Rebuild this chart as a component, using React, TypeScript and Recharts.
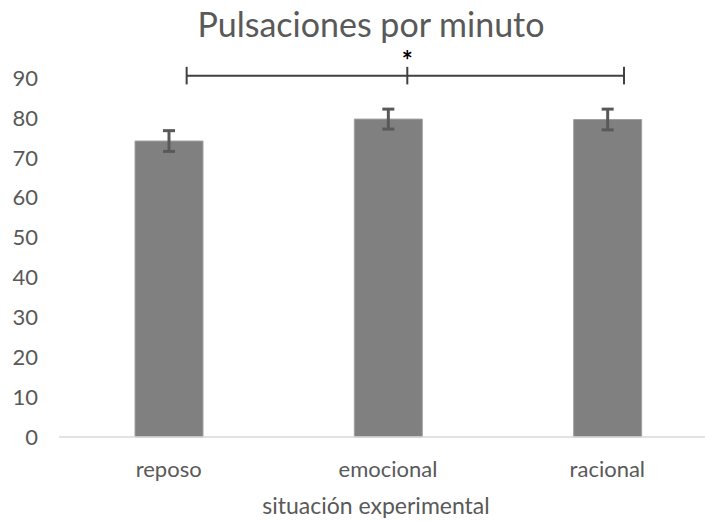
import React from 'react';
import { BarChart, Bar, XAxis, YAxis, ErrorBar, ReferenceLine, ReferenceDot } from 'recharts';

const categories = ['reposo', 'emocional', 'racional'];
const means = [74.2, 79.7, 79.6];
const errors = [2.6, 2.5, 2.6];
const positions = [0.5, 1.5, 2.5];
const yTicks = [0, 10, 20, 30, 40, 50, 60, 70, 80, 90];
const titleText = 'Pulsaciones por minuto';
const xTitle = 'situación experimental';
// significance bracket (positions on a 0..3 category scale, values on the y scale)
const bracketX = [0.582, 1.588, 2.576];
const bracketY = 90.55;
const bracketTickLow = 88.4;
const bracketTickHigh = 92.8;
const starY = 94.2;

const data = categories.map((c, i) => ({ cat: c, pos: positions[i], value: means[i], err: errors[i] }));

const FONT = 'Lato, "Open Sans", sans-serif';
const TXT = '#595959';

export default function App() {
  return (
    <div style={{ position: 'absolute', left: 0, top: 0, width: 705, height: 522, overflow: 'hidden', background: '#fff' }}>
      <svg width={705} height={60} style={{ position: 'absolute', left: 0, top: 0 }}>
        <text x={371} y={37} textAnchor="middle" fontFamily={FONT} fontSize={34} fill={TXT}>{titleText}</text>
      </svg>
      <div style={{ position: 'absolute', left: 0, top: 0 }}>
        <BarChart width={717} height={522} data={data} margin={{ top: 78, right: 0, bottom: 0, left: 0 }} style={{ fontFamily: FONT }}>
          <XAxis
            dataKey="cat"
            height={85}
            axisLine={{ stroke: '#d9d9d9', strokeWidth: 1.5 }}
            tickLine={false}
            tickSize={0}
            tickMargin={24}
            tick={{ fontSize: 22, fill: TXT, fontFamily: FONT }}
            label={{ value: xTitle, position: 'insideBottom', offset: 8, dx: -12, fontSize: 23, fill: TXT, fontFamily: FONT }}
          />
          <XAxis xAxisId="b" dataKey="pos" type="number" domain={[0, 3]} hide allowDataOverflow />
          <YAxis
            width={59}
            domain={[0, 90]}
            ticks={yTicks}
            axisLine={false}
            tickLine={false}
            tickSize={0}
            tickMargin={21}
            interval={0}
            tick={{ fontSize: 22, fill: TXT, fontFamily: FONT }}
          />
          <Bar dataKey="value" fill="#808080" stroke="#a0a0a0" strokeWidth={1} barSize={68} isAnimationActive={false}>
            <ErrorBar dataKey="err" width={6} stroke="#595959" strokeWidth={3} isAnimationActive={false} />
          </Bar>
          <ReferenceLine xAxisId="b" ifOverflow="visible" stroke="#404040" strokeWidth={2}
            segment={[{ x: bracketX[0], y: bracketY }, { x: bracketX[2], y: bracketY }]} />
          {bracketX.map((bx, i) => (
            <ReferenceLine key={i} xAxisId="b" ifOverflow="visible" stroke="#404040" strokeWidth={2}
              segment={[{ x: bx, y: bracketTickLow }, { x: bx, y: bracketTickHigh }]} />
          ))}
          <ReferenceDot xAxisId="b" x={bracketX[1]} y={starY} r={0} ifOverflow="visible"
            label={{ value: '*', position: 'center', fontSize: 26, fontWeight: 'bold', fill: '#000', fontFamily: FONT }} />
        </BarChart>
      </div>
    </div>
  );
}
